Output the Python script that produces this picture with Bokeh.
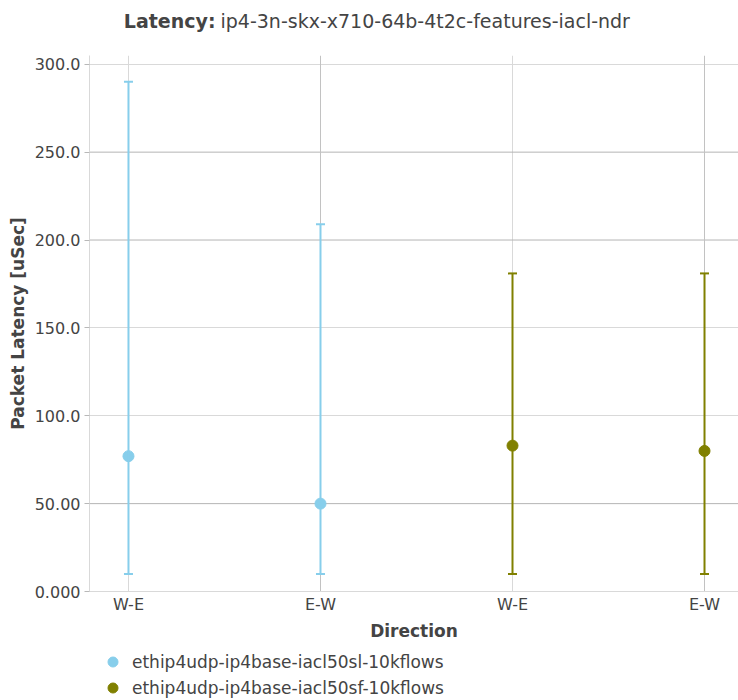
from bokeh.plotting import figure
from bokeh.layouts import column
from bokeh.models import (ColumnDataSource, Whisker, TeeHead, FixedTicker, Span,
                          Legend, LegendItem, Range1d)
from bokeh.core.properties import value
from bokeh.embed import file_html
from bokeh.resources import INLINE

# ---------------- data ----------------
categories = ["W-E", "E-W", "W-E", "E-W"]
series_names = ["ethip4udp-ip4base-iacl50sl-10kflows",
                "ethip4udp-ip4base-iacl50sf-10kflows"]
series_colors = ["#87ceeb", "#808000"]
series_x = [[0, 1], [2, 3]]
median_sl = [77, 50]
min_sl = [10, 10]
max_sl = [290, 209]
median_sf = [83, 80]
min_sf = [10, 10]
max_sf = [181, 181]
y_ticks = [0, 50, 100, 150, 200, 250, 300]
y_tick_labels = ["0.000", "50.00", "100.0", "150.0", "200.0", "250.0", "300.0"]
title_bold = "Latency:"
title_rest = "ip4-3n-skx-x710-64b-4t2c-features-iacl-ndr"
x_title = "Direction"
y_title = "Packet Latency [uSec]"

FONT = "DejaVu Sans"
TXT = "#444444"
GRID_LIGHT = "#d9d9d9"
GRID_DARK = "#b4b4b4"
GRID_DARK_V = "#c2c2c2"
W = 738
FRAME_LEFT = 89

# ---------------- title strip ----------------
TH = 40
pt = figure(width=W, height=TH, output_backend="svg", toolbar_location=None,
            x_range=Range1d(FRAME_LEFT, W), y_range=Range1d(0, TH), min_border=0)
pt.axis.visible = False
pt.grid.visible = False
pt.outline_line_color = None
pt.text(x=[215], y=[20], text=[title_bold], text_align="right",
        text_baseline="middle", text_font=value(FONT), text_font_size="19px",
        text_font_style="bold", text_color=TXT)
pt.text(x=[220], y=[20], text=[title_rest], text_align="left",
        text_baseline="middle", text_font=value(FONT), text_font_size="19px",
        text_color=TXT)

# ---------------- main chart ----------------
p = figure(width=W, height=606, output_backend="svg", toolbar_location=None,
           x_range=Range1d(-0.203, 3.177), y_range=Range1d(0, 305),
           min_border_left=FRAME_LEFT, min_border_right=0, min_border_top=15,
           min_border_bottom=55)
p.outline_line_color = None
p.background_fill_color = "white"

p.xaxis.ticker = FixedTicker(ticks=[0, 1, 2, 3])
p.xaxis.major_label_overrides = {i: c for i, c in enumerate(categories)}
p.xaxis.major_tick_in = 0
p.xaxis.major_tick_out = 0
p.xaxis.major_tick_line_color = None
p.xaxis.minor_tick_line_color = None
p.xaxis.axis_line_color = GRID_LIGHT
p.xaxis.major_label_standoff = 3
p.xaxis.axis_label = x_title
p.xaxis.axis_label_standoff = 4

p.yaxis.ticker = FixedTicker(ticks=y_ticks)
p.yaxis.major_label_overrides = {t: l for t, l in zip(y_ticks, y_tick_labels)}
p.yaxis.major_tick_in = 0
p.yaxis.major_tick_out = 5
p.yaxis.major_tick_line_color = "#b8b8b8"
p.yaxis.minor_tick_line_color = None
p.yaxis.axis_line_color = GRID_LIGHT
p.yaxis.major_label_standoff = 4
p.yaxis.axis_label = y_title
p.yaxis.axis_label_standoff = 4

for ax in (p.xaxis[0], p.yaxis[0]):
    ax.major_label_text_font = FONT
    ax.major_label_text_font_size = "16px"
    ax.major_label_text_color = TXT
    ax.axis_label_text_font = FONT
    ax.axis_label_text_font_size = "17px"
    ax.axis_label_text_font_style = "bold"
    ax.axis_label_text_color = TXT

p.ygrid.ticker = FixedTicker(ticks=[100, 150, 300])
p.ygrid.grid_line_color = GRID_LIGHT
p.xgrid.ticker = FixedTicker(ticks=[0, 2])
p.xgrid.grid_line_color = GRID_LIGHT
for yv in [50, 200, 250]:
    p.add_layout(Span(location=yv, dimension="width", line_color=GRID_DARK,
                      line_width=1, level="underlay"))
for xv in [1, 3]:
    p.add_layout(Span(location=xv, dimension="height", line_color=GRID_DARK_V,
                      line_width=1, level="underlay"))

medians = [median_sl, median_sf]
mins = [min_sl, min_sf]
maxs = [max_sl, max_sf]
sources = []
for name, col, xs, med, lo, hi in zip(series_names, series_colors, series_x,
                                      medians, mins, maxs):
    src = ColumnDataSource(dict(x=xs, y=med, lower=lo, upper=hi))
    sources.append(src)
    w = Whisker(base="x", lower="lower", upper="upper", source=src,
                line_color=col, line_width=2, level="glyph",
                upper_head=TeeHead(size=9, line_color=col, line_width=2),
                lower_head=TeeHead(size=9, line_color=col, line_width=2))
    p.add_layout(w)
    p.scatter("x", "y", source=src, size=11, fill_color=col, line_color=col)

# ---------------- legend strip ----------------
LH = 54
pl = figure(width=W, height=LH, output_backend="svg", toolbar_location=None,
            x_range=Range1d(1000, 1001), y_range=Range1d(1000, 1001),
            min_border=0)
pl.axis.visible = False
pl.grid.visible = False
pl.outline_line_color = None
items = []
for name, col, src in zip(series_names, series_colors, sources):
    # same data as the chart; lies outside this strip's ranges, so only the
    # legend swatch is visible here
    r = pl.scatter("x", "y", source=src, size=11, fill_color=col, line_color=col)
    items.append(LegendItem(label=name, renderers=[r]))
legend = Legend(items=items, location=(11, 0), orientation="vertical",
                border_line_color=None, background_fill_alpha=0,
                padding=0, margin=0, spacing=1, label_height=25,
                glyph_height=25, glyph_width=25, label_standoff=7,
                label_text_font=FONT, label_text_font_size="17px",
                label_text_color=TXT)
pl.add_layout(legend)

open("out.html", "w").write(file_html(column(pt, p, pl, spacing=0), INLINE))
